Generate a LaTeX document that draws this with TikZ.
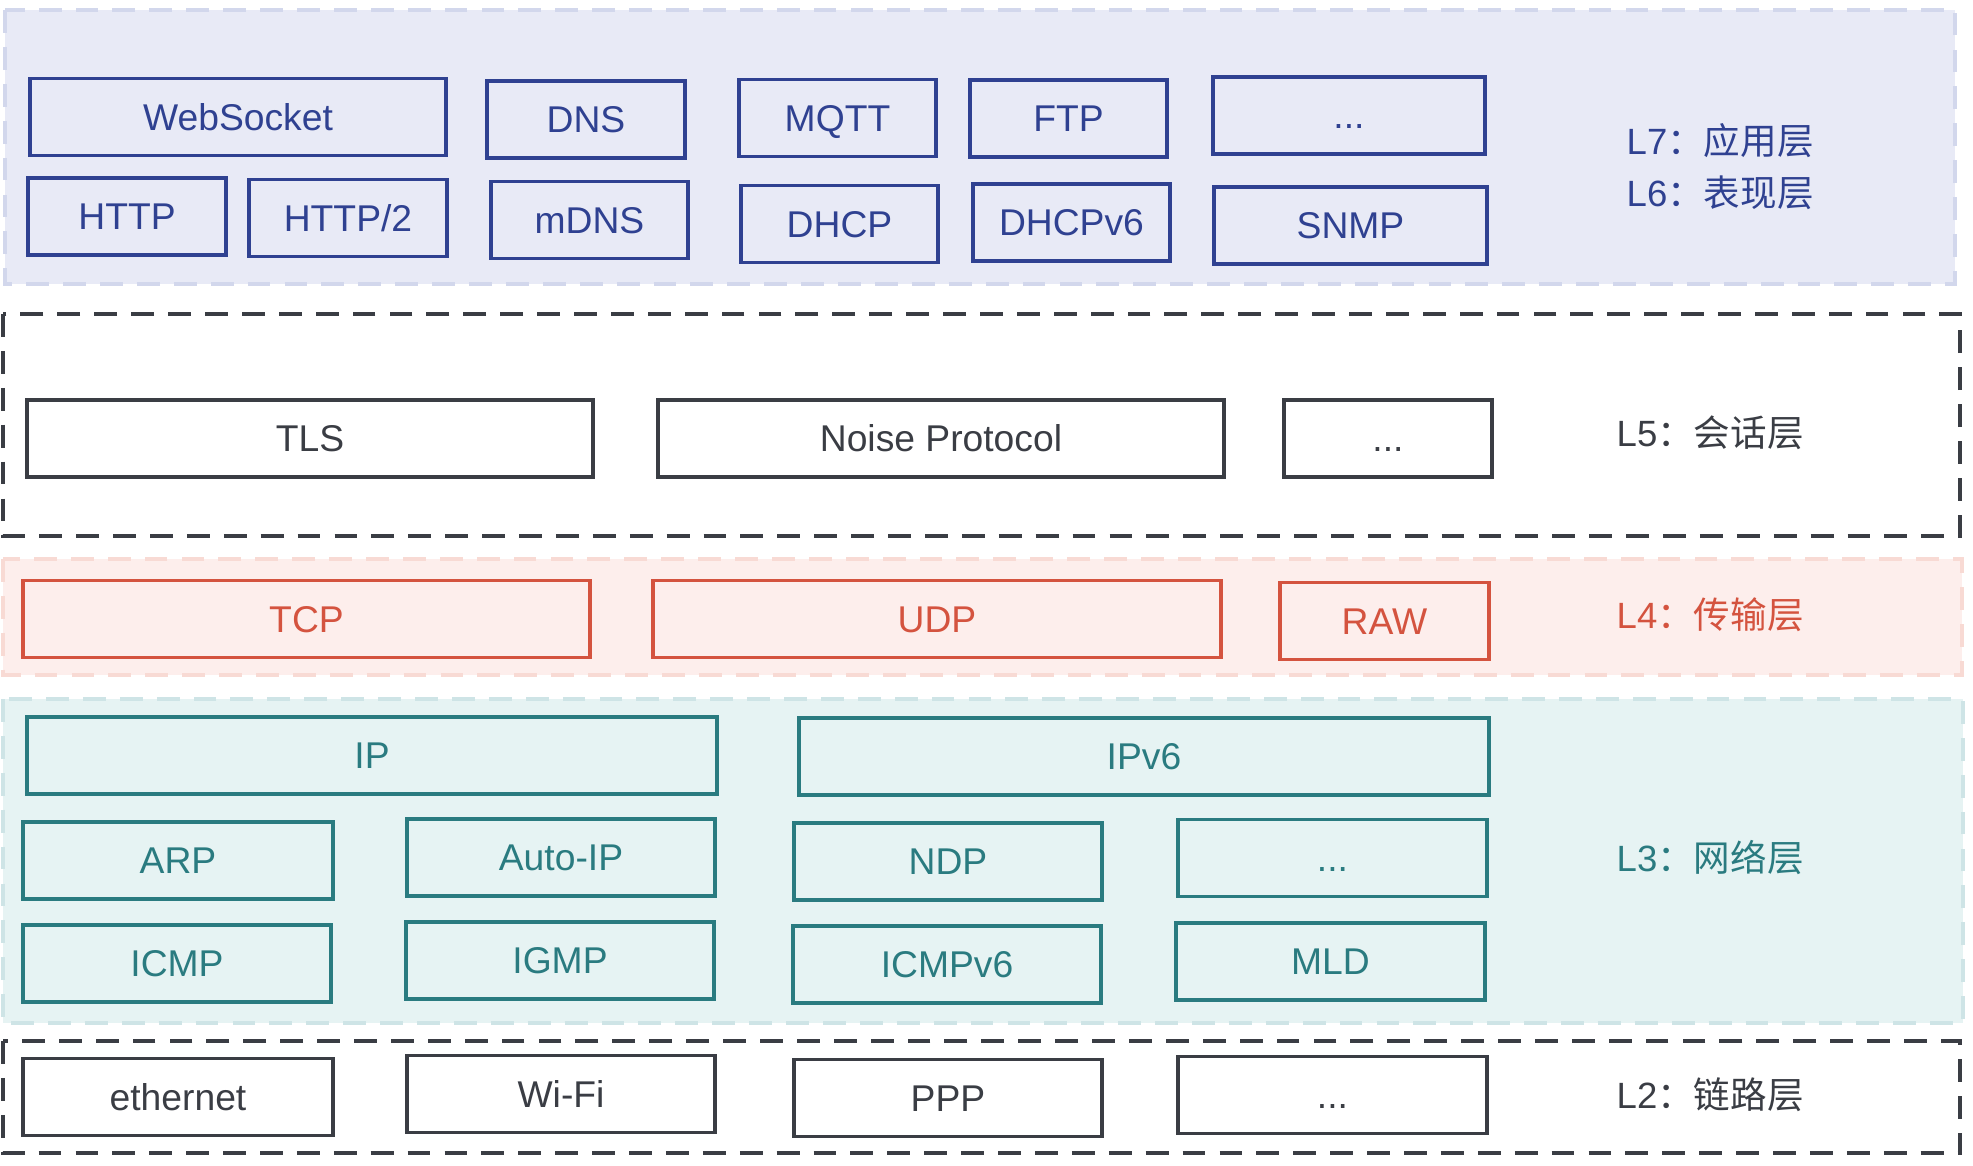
\documentclass[tikz,border=0pt]{standalone}
\usepackage{fontspec}
\setmainfont{Liberation Sans}
\newfontfamily\cjk{Noto Sans CJK SC}
\usepackage{xcolor}
\usetikzlibrary{positioning}

\definecolor{appblue}{HTML}{2F4191}
\definecolor{appfill}{HTML}{E8EAF6}
\definecolor{appline}{HTML}{D2D7EC}
\definecolor{darkgray}{HTML}{3A3D44}
\definecolor{tcpred}{HTML}{D4533F}
\definecolor{tcpfill}{HTML}{FDEEEC}
\definecolor{tcpline}{HTML}{F8DAD4}
\definecolor{ipteal}{HTML}{2A7B80}
\definecolor{ipfill}{HTML}{E6F3F3}
\definecolor{ipline}{HTML}{CEE4E6}

\begin{document}
\begin{tikzpicture}[
            proto/.style={rectangle, draw, line width=0.9pt, inner sep=0pt,
                minimum height=0.77cm, text height=7.6pt, text depth=0pt,
                font=\fontsize{10.6}{12}\selectfont},
            app/.style={proto, draw=appblue, text=appblue},
            sess/.style={proto, draw=darkgray, text=darkgray},
            trans/.style={proto, draw=tcpred, text=tcpred},
            net/.style={proto, draw=ipteal, text=ipteal},
            link/.style={proto, draw=darkgray, text=darkgray},
            layer/.style={line width=1pt, dash pattern=on 6.5pt off 4pt},
            tag/.style={anchor=west, inner sep=0pt, font=\fontsize{10.4}{12}\selectfont}
        ]

        \useasboundingbox (0,0) rectangle (19.73,-11.65);

        % Layer bands
        \draw[layer, draw=appline, fill=appfill] (0.05,-0.10) rectangle (19.55,-2.84);
        \draw[layer, line width=1.3pt, draw=darkgray] (0.03,-3.14) rectangle (19.60,-5.36);
        \draw[layer, draw=tcpline, fill=tcpfill] (0.03,-5.59) rectangle (19.62,-6.75);
        \draw[layer, draw=ipline, fill=ipfill] (0.03,-6.99) rectangle (19.63,-10.23);
        \draw[layer, line width=1.3pt, draw=darkgray] (0.03,-10.41) rectangle (19.60,-11.53);

        % L7 / L6
        \node[app, minimum width=4.16cm] (ws) at (2.38, -1.17) {WebSocket};
        \node[app, minimum width=1.98cm] (dns) at (5.86, -1.195) {DNS};
        \node[app, minimum width=1.97cm] (mqtt) at (8.375, -1.18) {MQTT};
        \node[app, minimum width=1.97cm] (ftp) at (10.685, -1.185) {FTP};
        \node[app, minimum width=2.72cm] (appmore) at (13.49, -1.155) {...};
        \node[app, minimum width=1.98cm] (http) at (1.27, -2.165) {HTTP};
        \node[app, minimum width=1.98cm] (http2) at (3.48, -2.18) {HTTP/2};
        \node[app, minimum width=1.97cm] (mdns) at (5.895, -2.20) {mDNS};
        \node[app, minimum width=1.97cm] (dhcp) at (8.395, -2.24) {DHCP};
        \node[app, minimum width=1.97cm] (dhcp6) at (10.715, -2.225) {DHCPv6};
        \node[app, minimum width=2.73cm] (snmp) at (13.505, -2.255) {SNMP};

        % L5
        \node[sess, minimum width=5.66cm] (tls) at (3.10, -4.385) {TLS};
        \node[sess, minimum width=5.66cm] (noise) at (9.41, -4.385) {Noise Protocol};
        \node[sess, minimum width=2.08cm] (sessmore) at (13.88, -4.385) {...};

        % L4
        \node[trans, minimum width=5.67cm] (tcp) at (3.065, -6.19) {TCP};
        \node[trans, minimum width=5.68cm] (udp) at (9.37, -6.19) {UDP};
        \node[trans, minimum width=2.09cm] (raw) at (13.845, -6.21) {RAW};

        % L3
        \node[net, minimum width=6.90cm] (ip) at (3.72, -7.555) {IP};
        \node[net, minimum width=6.90cm] (ip6) at (11.44, -7.565) {IPv6};
        \node[net, minimum width=3.10cm] (arp) at (1.78, -8.605) {ARP};
        \node[net, minimum width=3.08cm] (autoip) at (5.61, -8.575) {Auto-IP};
        \node[net, minimum width=3.08cm] (ndp) at (9.48, -8.615) {NDP};
        \node[net, minimum width=3.09cm] (netmore) at (13.325, -8.58) {...};
        \node[net, minimum width=3.08cm] (icmp) at (1.77, -9.635) {ICMP};
        \node[net, minimum width=3.08cm] (igmp) at (5.60, -9.605) {IGMP};
        \node[net, minimum width=3.08cm] (icmp6) at (9.47, -9.645) {ICMPv6};
        \node[net, minimum width=3.09cm] (mld) at (13.305, -9.615) {MLD};

        % L2
        \node[link, minimum width=3.10cm] (eth) at (1.78, -10.97) {ethernet};
        \node[link, minimum width=3.08cm] (wifi) at (5.61, -10.94) {Wi-Fi};
        \node[link, minimum width=3.08cm] (ppp) at (9.48, -10.98) {PPP};
        \node[link, minimum width=3.09cm] (linkmore) at (13.325, -10.95) {...};

        % Layer names
        \node[tag, text=appblue] (l7) at (16.26, -1.41) {L7{\cjk：应用层}};
        \node[tag, text=appblue] (l6) at (16.26, -1.93) {L6{\cjk：表现层}};
        \node[tag, text=darkgray] (l5) at (16.16, -4.33) {L5{\cjk：会话层}};
        \node[tag, text=tcpred] (l4) at (16.16, -6.15) {L4{\cjk：传输层}};
        \node[tag, text=ipteal] (l3) at (16.16, -8.58) {L3{\cjk：网络层}};
        \node[tag, text=darkgray] (l2) at (16.16, -10.95) {L2{\cjk：链路层}};

    \end{tikzpicture}
\end{document}
